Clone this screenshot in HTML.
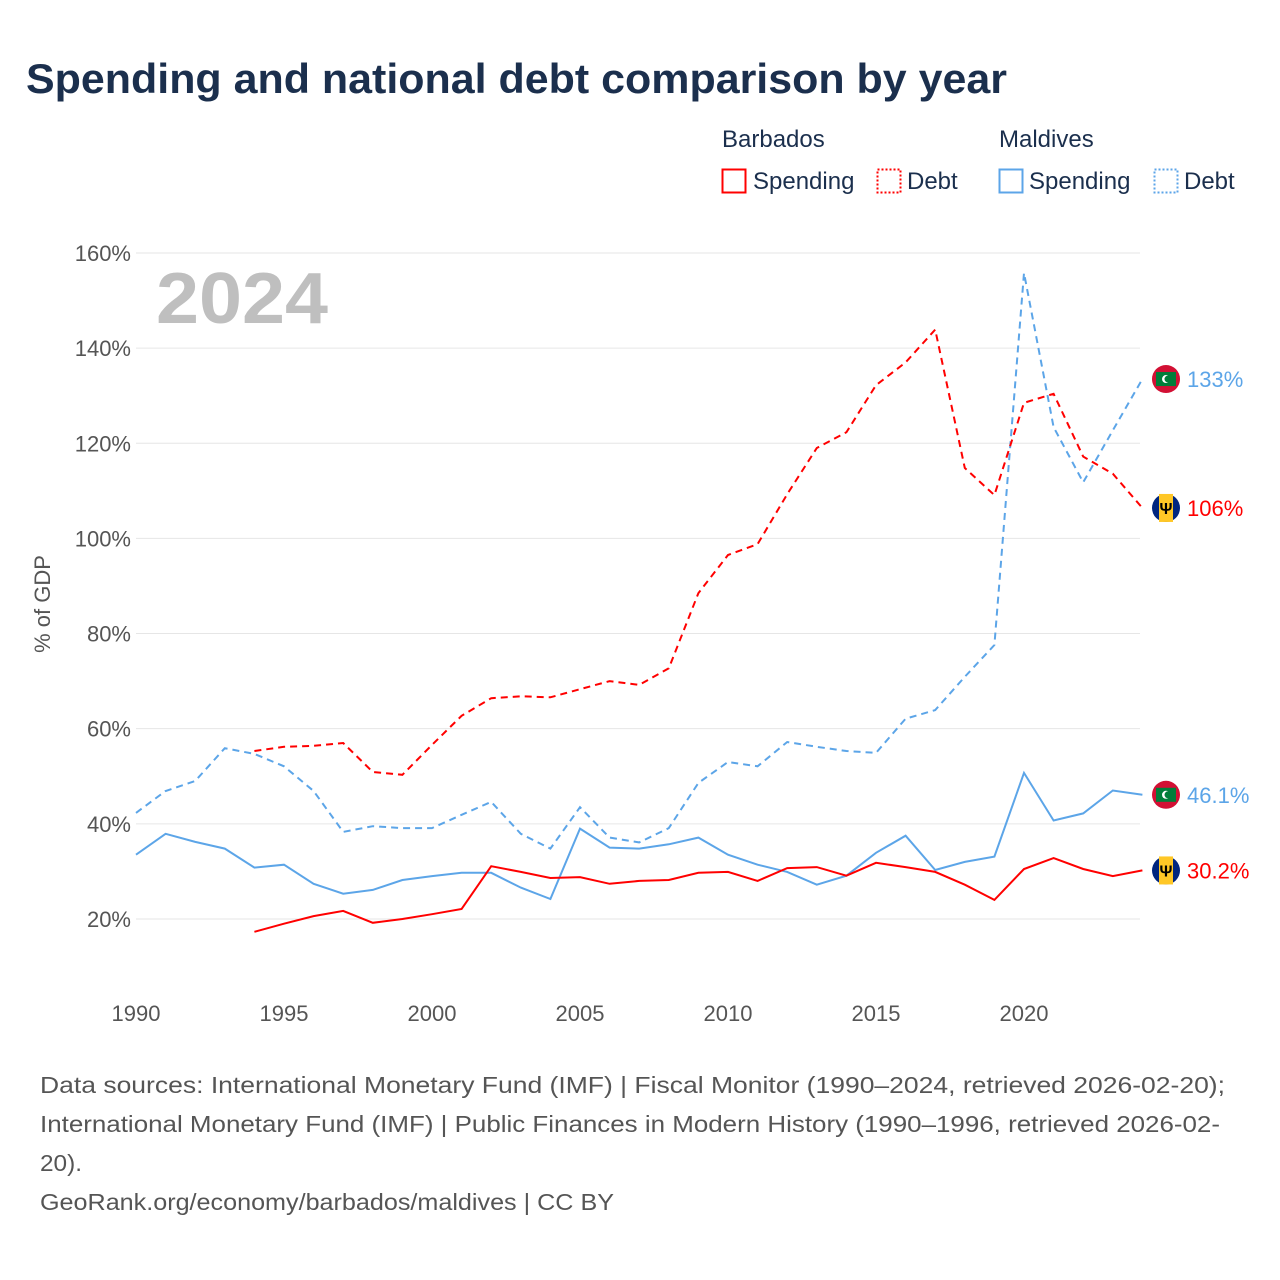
<!DOCTYPE html>
<html><head><meta charset="utf-8">
<style>
body{margin:0;width:1280px;height:1280px;background:#fff;font-family:"Liberation Sans",sans-serif;overflow:hidden}
svg{position:absolute;left:0;top:0}
</style></head>
<body>
<svg id="c" width="1280" height="1280">
<text x="26" y="93" font-size="42" font-weight="bold" fill="#1b2f4d" textLength="981" lengthAdjust="spacingAndGlyphs">Spending and national debt comparison by year</text>
<g font-size="24" fill="#1b2f4d">
<text x="722" y="147">Barbados</text>
<text x="999" y="147">Maldives</text>
<rect x="722.5" y="169.5" width="23" height="23" fill="none" stroke="#f00" stroke-width="2"/>
<text x="753" y="189">Spending</text>
<rect x="877.5" y="169.5" width="23" height="23" fill="none" stroke="#f00" stroke-width="2" stroke-dasharray="2,2"/>
<text x="907" y="189">Debt</text>
<rect x="999.5" y="169.5" width="23" height="23" fill="none" stroke="#5ca5e8" stroke-width="2"/>
<text x="1029" y="189">Spending</text>
<rect x="1154.5" y="169.5" width="23" height="23" fill="none" stroke="#5ca5e8" stroke-width="2" stroke-dasharray="2,2"/>
<text x="1184" y="189">Debt</text>
</g>
<text x="156" y="323" font-size="72" font-weight="bold" fill="#bfbfbf" textLength="172" lengthAdjust="spacingAndGlyphs">2024</text>
<text transform="translate(50,604) rotate(-90)" text-anchor="middle" font-size="22" fill="#555">% of GDP</text>
<g id="grid"></g><g id="lines"></g><g id="ends"></g>
<g font-size="23" fill="#555">
<text x="40" y="1093" textLength="1185" lengthAdjust="spacingAndGlyphs">Data sources: International Monetary Fund (IMF) | Fiscal Monitor (1990–2024, retrieved 2026-02-20);</text>
<text x="40" y="1132" textLength="1180" lengthAdjust="spacingAndGlyphs">International Monetary Fund (IMF) | Public Finances in Modern History (1990–1996, retrieved 2026-02-</text>
<text x="40" y="1171" textLength="42" lengthAdjust="spacingAndGlyphs">20).</text>
<text x="40" y="1210" textLength="574" lengthAdjust="spacingAndGlyphs">GeoRank.org/economy/barbados/maldives | CC BY</text>
</g>
</svg>
<script>
const yTicks=[20,40,60,80,100,120,140,160];
const xTicks=[1990,1995,2000,2005,2010,2015,2020];
const brbYears=[1994,1995,1996,1997,1998,1999,2000,2001,2002,2003,2004,2005,2006,2007,2008,2009,2010,2011,2012,2013,2014,2015,2016,2017,2018,2019,2020,2021,2022,2023,2024];
const brbSpending=[17.3,19,20.6,21.7,19.2,20,21,22.1,31.1,29.9,28.6,28.8,27.4,28,28.2,29.7,29.9,28,30.7,30.9,29.1,31.8,30.9,29.9,27.2,24,30.5,32.8,30.5,29,30.2];
const brbDebt=[55.3,56.2,56.4,57,50.9,50.3,56.6,62.7,66.4,66.8,66.6,68.3,70,69.2,72.7,88.5,96.5,98.8,109.3,119,122.3,132.2,137,143.9,114.8,109.1,128.5,130.4,117.2,113.6,106.4];
const mdvYears=[1990,1991,1992,1993,1994,1995,1996,1997,1998,1999,2000,2001,2002,2003,2004,2005,2006,2007,2008,2009,2010,2011,2012,2013,2014,2015,2016,2017,2018,2019,2020,2021,2022,2023,2024];
const mdvSpending=[33.5,37.9,36.2,34.8,30.8,31.4,27.4,25.3,26.1,28.2,29,29.7,29.7,26.6,24.2,39,35,34.8,35.7,37.1,33.5,31.4,29.9,27.2,29.1,33.9,37.5,30.3,32,33.1,50.7,40.7,42.2,47,46.1];
const mdvDebt=[42.3,46.9,49,55.9,54.7,52.1,46.9,38.3,39.5,39.1,39.1,41.9,44.6,37.9,34.8,43.5,37.1,36.1,39.1,48.6,53,52.1,57.2,56.2,55.3,54.9,62.1,63.9,70.9,77.6,155.8,123.4,111.8,122.7,133.5];
const NS='http://www.w3.org/2000/svg';
const X=y=>136+(y-1990)*29.6;
const Y=v=>1014.1-v*4.757;
function mk(t,a,p){const e=document.createElementNS(NS,t);for(const k in a)e.setAttribute(k,a[k]);p.appendChild(e);return e;}
const grid=document.getElementById('grid');
yTicks.forEach(v=>{
 const l=mk('line',{x1:136,x2:1140,y1:Y(v),y2:Y(v),stroke:'#e6e6e6','stroke-width':1},grid);
 
 
 const t=mk('text',{x:131,y:Y(v)+8,'text-anchor':'end','font-size':22,fill:'#555'},grid);
 t.textContent=v+'%';
 
 
});
xTicks.forEach(v=>{
 const t=mk('text',{x:X(v),y:1021,'text-anchor':'middle','font-size':22,fill:'#555'},grid);
 t.textContent=v;
 
 
});
const lines=document.getElementById('lines');
function series(xs,vs,col,dash,name){
 const d=xs.map((x,i)=>(i?'L':'M')+X(x).toFixed(1)+','+Y(vs[i]).toFixed(1)).join(' ');
 const p=mk('path',{d:d,fill:'none',stroke:col,'stroke-width':2,'stroke-dasharray':dash},lines);
 
 
}
series(mdvYears,mdvDebt,'#5ca5e8','7,5','line-maldives-debt');
series(brbYears,brbDebt,'#f00','7,5','line-barbados-debt');
series(mdvYears,mdvSpending,'#5ca5e8','','line-maldives-spending');
series(brbYears,brbSpending,'#f00','','line-barbados-spending');
const ends=document.getElementById('ends');
function endLabel(v,col,txt,country,name){
 const y=Y(v);
 const g=mk('g',{},ends);
 
 
 if(country==='mdv'){
  mk('circle',{cx:1166,cy:y,r:14,fill:'#d21034'},g);
  mk('rect',{x:1156,y:y-7,width:20,height:14,fill:'#007e3a'},g);
  mk('circle',{cx:1166,cy:y,r:4,fill:'#fff'},g);
  mk('circle',{cx:1168,cy:y,r:3.5,fill:'#007e3a'},g);
 }else{
  mk('circle',{cx:1166,cy:y,r:14,fill:'#00267f'},g);
  mk('rect',{x:1159,y:y-14,width:14,height:28,fill:'#ffc726'},g);
  const t=mk('text',{x:1166,y:y+6,'text-anchor':'middle','font-size':16,'font-weight':'bold',fill:'#000'},g);
  t.textContent='Ψ';
 }
 const t=mk('text',{x:1187,y:y+8,'font-size':22,fill:col},g);
 t.textContent=txt;
}
endLabel(mdvDebt[mdvDebt.length-1],'#5ca5e8','133%','mdv','end-label-maldives-debt');
endLabel(brbDebt[brbDebt.length-1],'#f00','106%','brb','end-label-barbados-debt');
endLabel(mdvSpending[mdvSpending.length-1],'#5ca5e8','46.1%','mdv','end-label-maldives-spending');
endLabel(brbSpending[brbSpending.length-1],'#f00','30.2%','brb','end-label-barbados-spending');
</script>
</body></html>
